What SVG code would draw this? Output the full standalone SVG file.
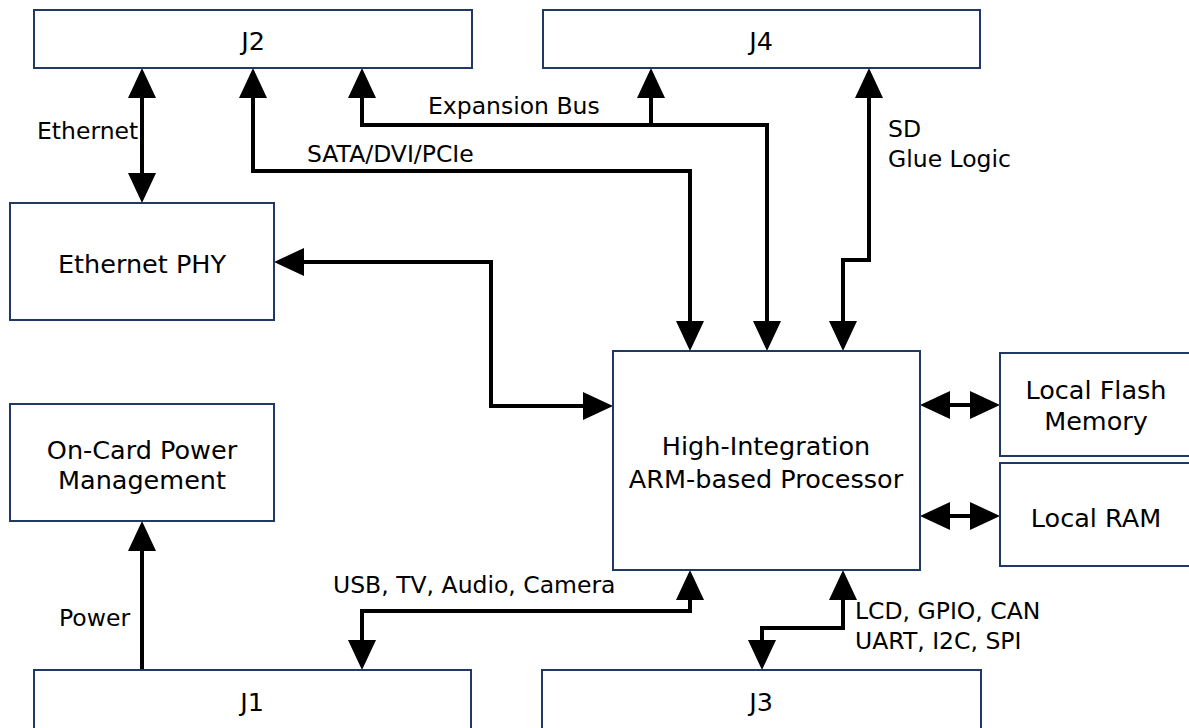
<svg xmlns="http://www.w3.org/2000/svg" width="1189" height="728" viewBox="0 0 1189 728">
<style>
.box{fill:#fff;stroke:#1f3864;stroke-width:2}
.t{font-family:"DejaVu Sans",sans-serif;font-size:25.5px;fill:#000;text-anchor:middle}
.l{font-family:"DejaVu Sans",sans-serif;font-size:23.5px;fill:#000}
.c{fill:none;stroke:#000;stroke-width:4;stroke-linejoin:miter}
</style>
<defs>
<marker id="ah" markerUnits="userSpaceOnUse" viewBox="0 0 30 28" refX="22" refY="14" markerWidth="30" markerHeight="28" orient="auto-start-reverse">
<path d="M0,0 L30,14 L0,28 z" fill="#000"/>
</marker>
</defs>
<rect width="1189" height="728" fill="#fff"/>
<g id="connectors">
<path class="c" d="M142,76 L142,195" marker-start="url(#ah)" marker-end="url(#ah)"/>
<path class="c" d="M253,76 L253,171 L690,171 L690,343" marker-start="url(#ah)" marker-end="url(#ah)"/>
<path class="c" d="M362,76 L362,125 L767,125 L767,343" marker-start="url(#ah)" marker-end="url(#ah)"/>
<path class="c" d="M651,76 L651,125" marker-start="url(#ah)"/>
<path class="c" d="M869,76 L869,260 L843,260 L843,343" marker-start="url(#ah)" marker-end="url(#ah)"/>
<path class="c" d="M282,262 L491,262 L491,406 L605,406" marker-start="url(#ah)" marker-end="url(#ah)"/>
<path class="c" d="M928,405 L992,405" marker-start="url(#ah)" marker-end="url(#ah)"/>
<path class="c" d="M928,516 L992,516" marker-start="url(#ah)" marker-end="url(#ah)"/>
<path class="c" d="M142,670 L142,529" marker-end="url(#ah)"/>
<path class="c" d="M690,578 L690,611 L362,611 L362,662" marker-start="url(#ah)" marker-end="url(#ah)"/>
<path class="c" d="M843,578 L843,628 L762,628 L762,662" marker-start="url(#ah)" marker-end="url(#ah)"/>
<text class="l" x="37" y="139">Ethernet</text>
<text class="l" x="428" y="114">Expansion Bus</text>
<text class="l" x="307" y="162">SATA/DVI/PCIe</text>
<text class="l" x="888" y="137">SD</text>
<text class="l" x="888" y="167">Glue Logic</text>
<text class="l" x="333" y="593">USB, TV, Audio, Camera</text>
<text class="l" x="59" y="626">Power</text>
<text class="l" x="855" y="619">LCD, GPIO, CAN</text>
<text class="l" x="855" y="649">UART, I2C, SPI</text>
</g>
<g id="j2"><rect class="box" x="34" y="10" width="438" height="58"/><text class="t" x="253" y="50">J2</text></g>
<g id="j4"><rect class="box" x="543" y="10" width="437" height="58"/><text class="t" x="761" y="50">J4</text></g>
<g id="ethphy"><rect class="box" x="10" y="203" width="264" height="117"/><text class="t" x="142" y="273">Ethernet PHY</text></g>
<g id="power"><rect class="box" x="10" y="404" width="264" height="117"/><text class="t" x="142" y="459">On-Card Power</text><text class="t" x="142" y="489">Management</text></g>
<g id="cpu"><rect class="box" x="613" y="351" width="307" height="219"/><text class="t" x="766" y="455">High-Integration</text><text class="t" x="766" y="488">ARM-based Processor</text></g>
<g id="flash"><rect class="box" x="1000" y="353" width="192" height="103"/><text class="t" x="1096" y="399">Local Flash</text><text class="t" x="1096" y="430">Memory</text></g>
<g id="ram"><rect class="box" x="1000" y="463" width="192" height="103"/><text class="t" x="1096" y="527">Local RAM</text></g>
<g id="j1"><rect class="box" x="34" y="670" width="437" height="70"/><text class="t" x="252" y="711">J1</text></g>
<g id="j3"><rect class="box" x="542" y="670" width="439" height="70"/><text class="t" x="761" y="711">J3</text></g>
</svg>
